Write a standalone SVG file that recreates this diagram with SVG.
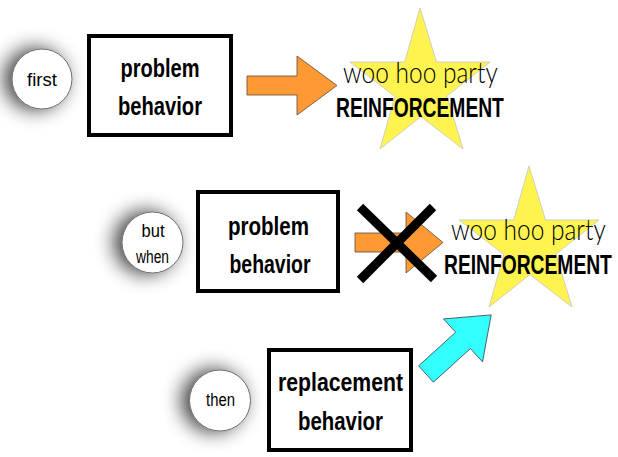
<svg xmlns="http://www.w3.org/2000/svg" width="618" height="457" viewBox="0 0 618 457">
<style>
.bg{fill:#ffffff}
.circ{fill:#ffffff;stroke:#6a6a6a;stroke-width:1}
.box{fill:#ffffff;stroke:#000000;stroke-width:4}
.bt{font-family:"Liberation Sans",Arial,sans-serif;font-weight:bold;font-size:26px;fill:#000;text-anchor:middle}
.ct{font-family:"Liberation Sans",Arial,sans-serif;font-size:18px;fill:#000;text-anchor:middle}
.star{fill:#fff44f;stroke:#cfcfbf;stroke-width:1}
.woo{font-family:Lato,"Open Sans",sans-serif;font-weight:300;font-size:29px;fill:#000}
.rf{font-family:"Liberation Sans",Arial,sans-serif;font-weight:bold;font-size:28px;fill:#000}
.oarrow{fill:#ff9933;stroke:#5a4a3a;stroke-width:0.8}
.carrow{fill:#33ffff;stroke:#3a4a4a;stroke-width:0.8}
.cross{stroke:#000;stroke-width:9;stroke-linecap:butt}
</style>
<defs>
<filter id="sh" x="-100%" y="-100%" width="300%" height="300%">
<feGaussianBlur in="SourceAlpha" stdDeviation="10"/>
<feOffset dx="-7" dy="0" result="b"/>
<feComponentTransfer><feFuncA type="linear" slope="0.8"/></feComponentTransfer>
<feMerge><feMergeNode/><feMergeNode in="SourceGraphic"/></feMerge>
</filter>
<polygon id="starShape" points="420,8 436.5,62 490,62 446.9,96.1 463,149 420.9,116.6 380,149 394.9,96.5 350,62 404.7,62"/>
</defs>
<rect class="bg" x="0" y="0" width="618" height="457"/>

<g id="connectors">
<path class="oarrow" d="M247,76 H297 V56 L337,85.5 L297,115 V95 H247 Z"/>
<path class="oarrow" d="M355,233 H406 V212 L443,242.5 L406,273 V252 H355 Z"/>
<path class="carrow" d="M0,-11 H50 V-29 L88,0 L50,29 V11 H0 Z" transform="translate(426,374) rotate(-42.2)"/>
<g id="cross">
<line class="cross" x1="360" y1="207" x2="434" y2="279"/>
<line class="cross" x1="433" y1="207" x2="360" y2="280"/>
</g>
</g>

<g id="first">
<circle class="circ" cx="42" cy="79" r="30" filter="url(#sh)"/>
<text class="ct" x="42" y="86" textLength="30" lengthAdjust="spacingAndGlyphs">first</text>
</g>
<g id="problem1">
<rect class="box" x="89" y="36" width="142" height="99"/>
<text class="bt" x="160" y="77" textLength="79" lengthAdjust="spacingAndGlyphs">problem</text>
<text class="bt" x="160" y="115" textLength="84" lengthAdjust="spacingAndGlyphs">behavior</text>
</g>
<g id="reinforcement1">
<use href="#starShape" class="star"/>
<text class="woo" transform="translate(343,83) scale(0.85,1)" x="0" y="0" textLength="182" lengthAdjust="spacingAndGlyphs">woo hoo party</text>
<text class="rf" transform="translate(336,117) scale(0.688,1)" x="0" y="0" textLength="244" lengthAdjust="spacingAndGlyphs">REINFORCEMENT</text>
</g>

<g id="butwhen">
<circle class="circ" cx="152.5" cy="242.5" r="30.5" filter="url(#sh)"/>
<text class="ct" x="153" y="237" textLength="23" lengthAdjust="spacingAndGlyphs">but</text>
<text class="ct" x="152.5" y="263" textLength="33" lengthAdjust="spacingAndGlyphs">when</text>
</g>
<g id="problem2">
<rect class="box" x="198" y="192" width="140" height="99"/>
<text class="bt" x="268.5" y="235" textLength="81" lengthAdjust="spacingAndGlyphs">problem</text>
<text class="bt" x="270" y="273" textLength="81" lengthAdjust="spacingAndGlyphs">behavior</text>
</g>
<g id="reinforcement2">
<use href="#starShape" class="star" transform="translate(109,158)"/>
<text class="woo" transform="translate(451,240) scale(0.85,1)" x="0" y="0" textLength="182" lengthAdjust="spacingAndGlyphs">woo hoo party</text>
<text class="rf" transform="translate(444,274) scale(0.688,1)" x="0" y="0" textLength="244" lengthAdjust="spacingAndGlyphs">REINFORCEMENT</text>
</g>

<g id="then">
<circle class="circ" cx="220" cy="400.5" r="30.5" filter="url(#sh)"/>
<text class="ct" x="220.5" y="406" textLength="29" lengthAdjust="spacingAndGlyphs">then</text>
</g>
<g id="replacement">
<rect class="box" x="269" y="350" width="142" height="100"/>
<text class="bt" x="340.5" y="391" textLength="125" lengthAdjust="spacingAndGlyphs">replacement</text>
<text class="bt" x="340.5" y="430" textLength="85" lengthAdjust="spacingAndGlyphs">behavior</text>
</g>
</svg>
